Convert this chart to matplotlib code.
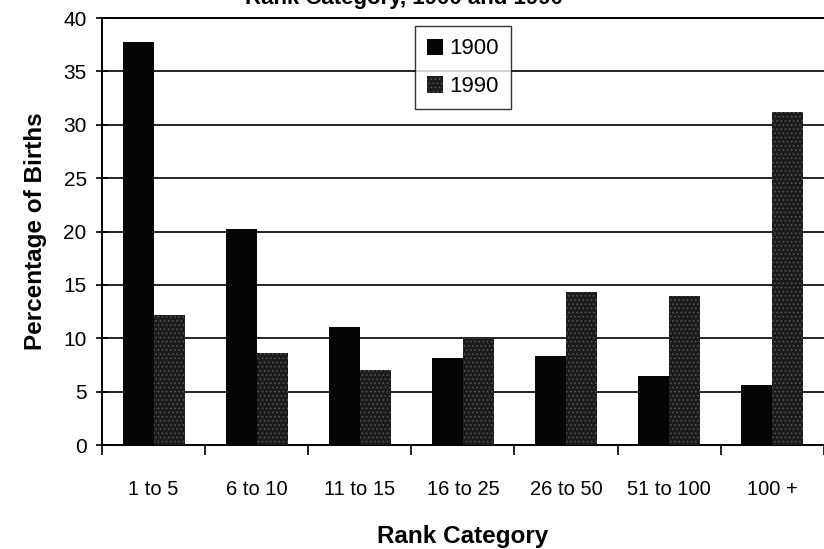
import numpy as np
import matplotlib.pyplot as plt

categories = ['1 to 5', '6 to 10', '11 to 15', '16 to 25', '26 to 50', '51 to 100', '100 +']
births_1900 = [37.8, 20.2, 11.1, 8.2, 8.3, 6.5, 5.6]
births_1990 = [12.2, 8.6, 7.0, 9.9, 14.3, 14.0, 31.2]

plt.rcParams['font.family'] = ['Liberation Sans', 'DejaVu Sans']
plt.rcParams['hatch.linewidth'] = 0.6

fig = plt.figure(figsize=(8.24, 5.49), dpi=100)
ax = fig.add_axes([0.1238, 0.1894, 0.876, 0.7776])

x = np.arange(len(categories))
w = 0.3
ax.bar(x - w / 2, births_1900, w, color='#050505', label='1900', zorder=3)
ax.bar(x + w / 2, births_1990, w, color='#1c1c1c', hatch='....', edgecolor='#555555',
       linewidth=0, label='1990', zorder=3)

ax.set_xlim(-0.5, len(categories) - 0.5)
ax.set_ylim(0, 40)
ax.set_yticks(range(0, 41, 5))
ax.yaxis.grid(True, color='black', linewidth=1.2, zorder=0)
ax.tick_params(axis='y', labelsize=15, length=8, width=1.2, direction='inout', pad=7)

# ticks at category boundaries, labels at the centres
ax.set_xticks(np.arange(-0.5, len(categories), 1.0))
ax.set_xticklabels([])
ax.set_xticks(x, minor=True)
ax.set_xticklabels(categories, minor=True)
ax.tick_params(axis='x', which='major', length=7, width=1.2, direction='out')
ax.tick_params(axis='x', which='minor', length=0, labelsize=14.5, pad=25)

for side in ['left', 'bottom', 'top']:
    ax.spines[side].set_linewidth(1.4)
ax.spines['right'].set_linewidth(0.6)

ax.set_ylabel('Percentage of Births', fontsize=17.5, fontweight='bold', labelpad=12)
ax.set_xlabel('Rank Category', fontsize=17.5, fontweight='bold', labelpad=19)

leg = ax.legend(loc='upper left', bbox_to_anchor=(0.433, 0.981), fontsize=16,
                frameon=True, fancybox=False, edgecolor='black',
                handlelength=0.75, handleheight=0.75, handletextpad=0.25,
                borderpad=0.55, labelspacing=0.75, borderaxespad=0)
leg.get_frame().set_linewidth(1.0)
leg.set_zorder(5)

fig.text(0.49, 0.993, 'Rank Category, 1900 and 1990', ha='center', va='baseline',
         fontsize=16, fontweight='bold')

fig.savefig('out.png', dpi=100)
